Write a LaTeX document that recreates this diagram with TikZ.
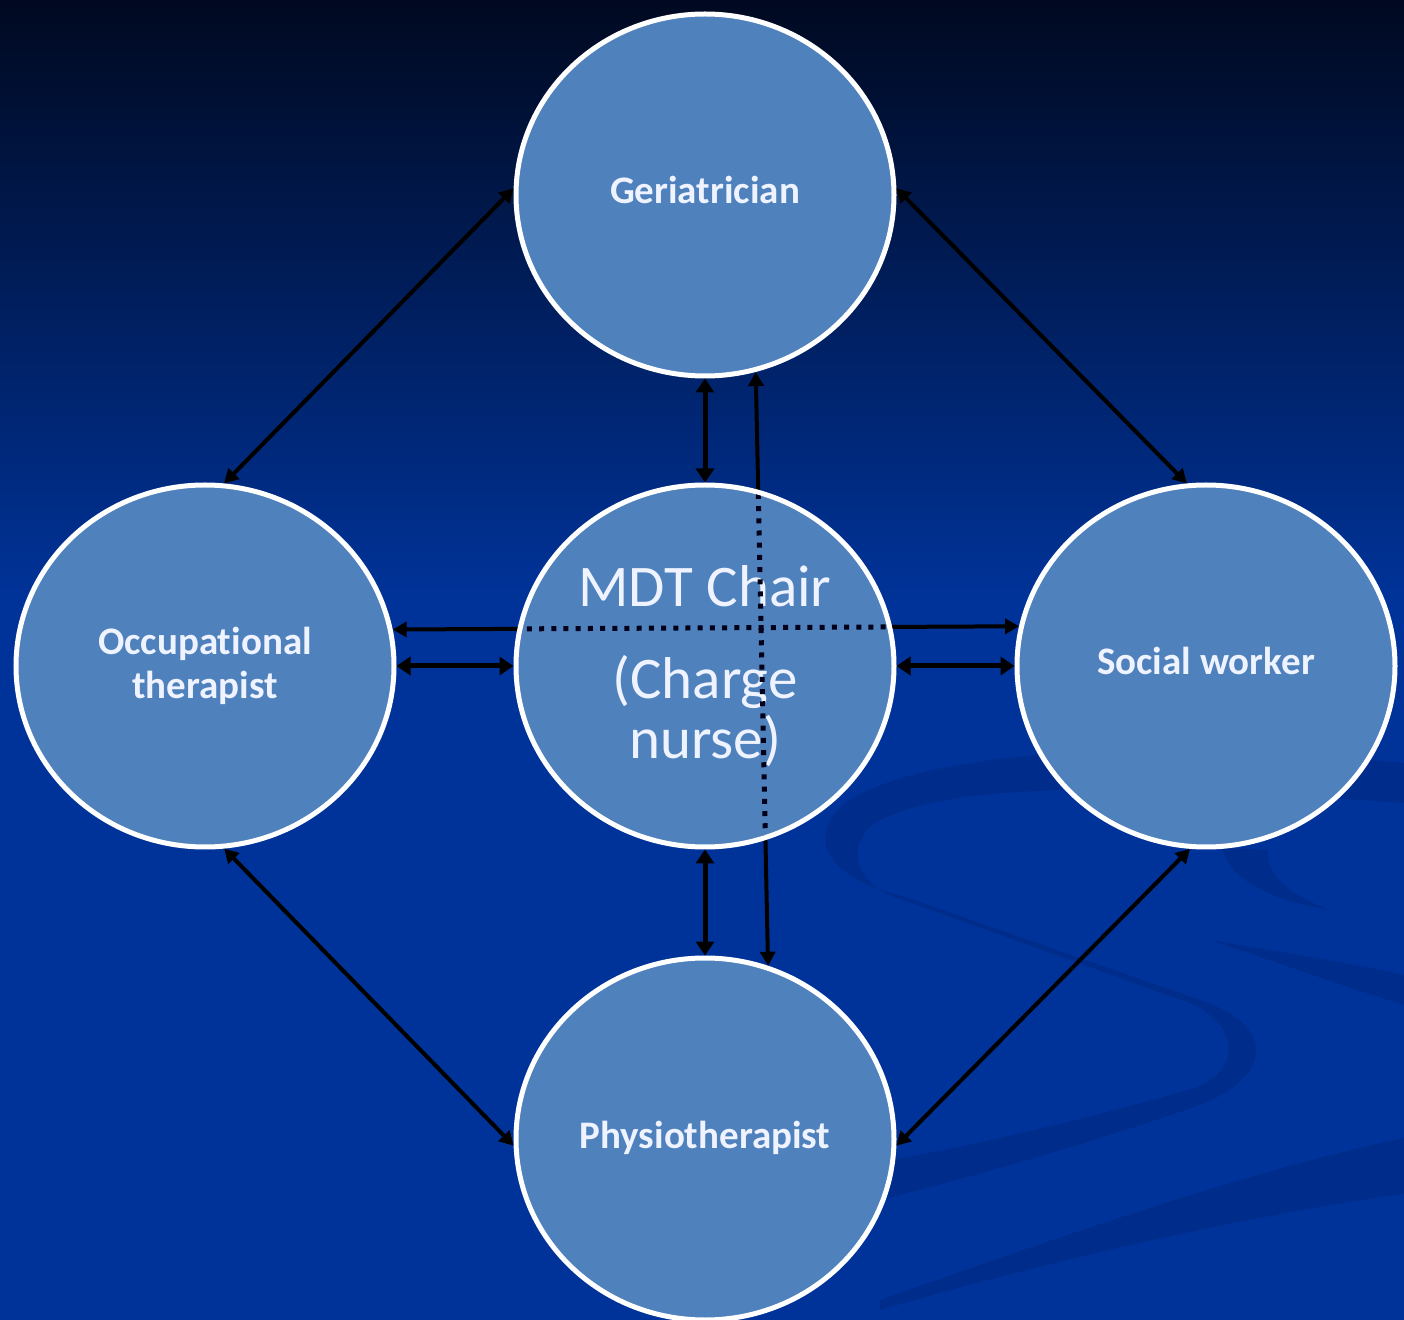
\documentclass[tikz,border=0pt]{standalone}
\usepackage{fontspec}
\setmainfont{Carlito}[Ligatures=NoCommon]
\usetikzlibrary{shapes.geometric,arrows.meta}

\definecolor{bgtop}{RGB}{0,9,32}
\definecolor{bgmid}{RGB}{0,36,112}
\definecolor{bgbase}{RGB}{0,51,153}
\definecolor{swoosh}{RGB}{0,44,139}
\definecolor{disc}{RGB}{79,129,189}
\definecolor{labeltext}{RGB}{238,243,255}

\pgfdeclarelayer{back}
\pgfsetlayers{back,main}

\begin{document}
\begin{tikzpicture}[x=0.5pt,y=-0.5pt,
  member/.style={ellipse, draw=white, line width=2.5pt, fill=disc,
    minimum width=189pt, minimum height=181pt, inner sep=0pt,
    text=labeltext, align=center,
    font=\bfseries\fontsize{19.5}{22}\selectfont},
  oneline/.style={text height=14pt, text depth=5pt},
  link/.style={line width=2pt, draw=black,
    {Triangle[length=7pt,width=7.5pt]}-{Triangle[length=7pt,width=7.5pt]}},
  shortlink/.style={line width=2.5pt, draw=black,
    {Triangle[length=7pt,width=9pt]}-{Triangle[length=7pt,width=9pt]}},
  dotline/.style={line width=2.5pt, draw=black!90!blue,
    dash pattern=on 2.5pt off 3.6pt},
]
\useasboundingbox (0,0) rectangle (1404,1320);

% backdrop: dark-to-blue fade and faint ribbons
\begin{pgfonlayer}{back}
  \shade[top color=bgtop, middle color=bgmid, bottom color=bgbase]
    (0,0) rectangle (1404,600);
  \fill[bgbase] (0,599) rectangle (1404,1320);
  \fill[swoosh] (1404,763) .. controls (1150,738) and (930,750) .. (850,800)
    .. controls (800,835) and (830,880) .. (900,895) -- (1200,1000)
    .. controls (1275,1025) and (1275,1075) .. (1200,1105)
    .. controls (1100,1140) and (980,1175) .. (880,1200) -- (880,1162)
    .. controls (980,1145) and (1100,1115) .. (1195,1088)
    .. controls (1240,1070) and (1240,1030) .. (1195,1005) -- (903,900)
    .. controls (850,885) and (845,840) .. (880,820)
    .. controls (960,780) and (1150,785) .. (1404,803) -- cycle;
  \fill[swoosh] (880,1300) .. controls (1050,1240) and (1250,1170) .. (1404,1138)
    -- (1404,1194) .. controls (1250,1215) and (1050,1260) .. (880,1310) -- cycle;
  \fill[swoosh] (1210,940) .. controls (1300,955) and (1360,965) .. (1404,975)
    -- (1404,1005) .. controls (1340,985) and (1270,960) .. (1210,940) -- cycle;
  \fill[swoosh] (1222,848) .. controls (1230,880) and (1270,900) .. (1330,910)
    .. controls (1290,895) and (1265,875) .. (1268,850) -- cycle;
\end{pgfonlayer}

% team members
\node[member, oneline] (ger) at (705,195) {Geriatrician};
\node[member] (occ) at (205,666) {Occupational\\therapist};
\node[member, font=\fontsize{29.5}{30}\selectfont] (mdt) at (705,666)
  {MDT Chair\\[16pt](Charge\\nurse)};
\node[member, oneline] (soc) at (1206,666) {Social worker};
\node[member, oneline] (phy) at (705,1139) {Physiotherapist};

% outer ring of links
\draw[link] (occ.84) -- (ger.178);
\draw[link] (ger.2) -- (soc.96);
\draw[link] (occ.-84) -- (phy.182);
\draw[link] (phy.-2) -- (soc.-95);

% links to the chair
\draw[shortlink] (ger.south) -- (mdt.north);
\draw[shortlink] (mdt.south) -- (phy.north);
\draw[shortlink] (occ.east) -- (mdt.west);
\draw[shortlink] (mdt.east) -- (soc.west);

% long links passing behind the chair
\begin{pgfonlayer}{back}
  \draw[link] (occ.11.5) -- (soc.168.5);
  \draw[link] (ger.-74) -- (phy.70);
\end{pgfonlayer}

% their dotted course across the chair
\begin{scope}
  \clip (mdt.center) ellipse [x radius=93.2pt, y radius=89.2pt];
  \draw[dotline] (occ.11.5) -- (soc.168.5);
  \draw[dotline] (ger.-74) -- (phy.70);
\end{scope}
\end{tikzpicture}
\end{document}
